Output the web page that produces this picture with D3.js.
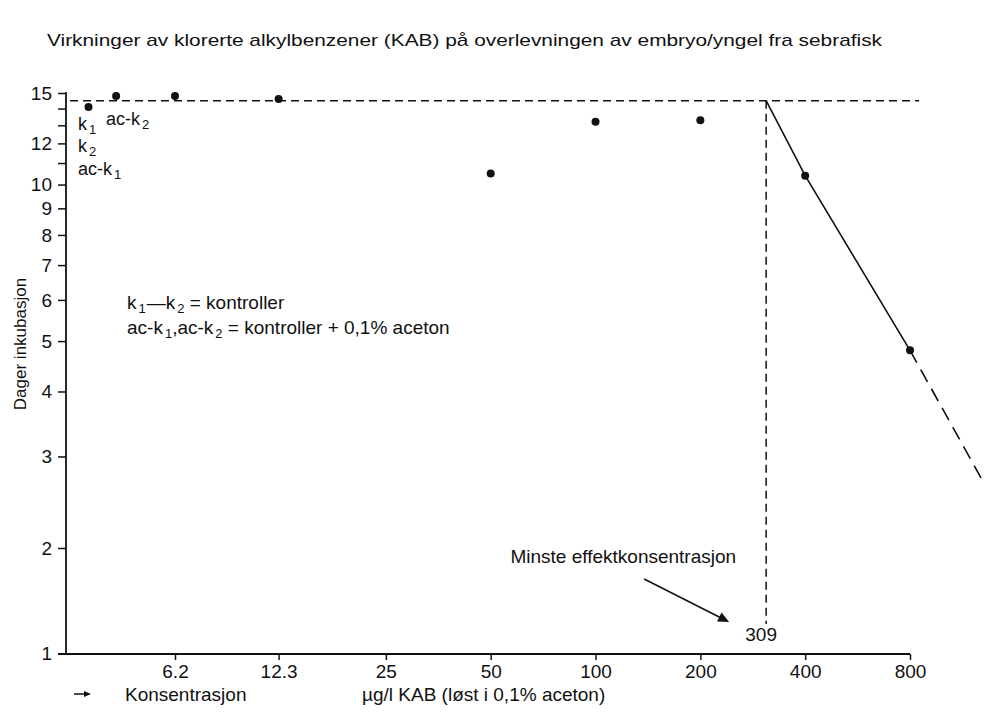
<!DOCTYPE html>
<html>
<head>
<meta charset="utf-8">
<script src="https://cdn.jsdelivr.net/npm/d3@7"></script>
<style>
  body { margin: 0; background: #fff; }
  text { font-family: "Liberation Sans", Arial, sans-serif; fill: #111; }
</style>
</head>
<body>
<div id="chart"></div>
<script>
// --- data ---
const xTicks = [6.2, 12.3, 25, 50, 100, 200, 400, 800];
const yTicks = [2, 3, 4, 5, 6, 7, 8, 9, 10, 11, 12, 13, 14, 15];
const yTickLabels = ["2", "3", "4", "5", "6", "7", "8", "9", "10", "", "12", "", "", "15"];

const conc = [6.2, 12.3, 50, 100, 200, 400, 800];
const days = [14.8, 14.6, 10.5, 13.2, 13.3, 10.4, 4.8];

const controlConc = [3.5, 4.2];      // k1, ac-k2 plotted left of the first concentration
const controlDays = [14.1, 14.8];

const plateau = 14.5;                 // dashed level of controls
const threshold = 309;                // minste effektkonsentrasjon
const fitConc = [309, 400, 800];
const fitDays = [14.5, 10.4, 4.8];
const extConc = [800, 1290];
const extDays = [4.8, 2.7];

const width = 993, height = 720;
const left = 66, bottom = 654;

const svg = d3.select("#chart").append("svg")
  .attr("width", width)
  .attr("height", height);

const x = d3.scaleLog().base(2).domain([6.2, 800]).range([175, 910]);
const y = d3.scaleLog().domain([2, 15]).range([548, 93]);

// title
svg.append("text")
  .attr("x", 47).attr("y", 46)
  .attr("textLength", 835).attr("lengthAdjust", "spacingAndGlyphs")
  .style("font-family", "'Liberation Sans Narrow', 'Liberation Sans', Arial, sans-serif")
  .style("font-size", "17px")
  .text("Virkninger av klorerte alkylbenzener (KAB) på overlevningen av embryo/yngel fra sebrafisk");

// y axis (log, broken below 2 down to origin 1)
const gy = svg.append("g")
  .attr("transform", `translate(${left},0)`)
  .call(d3.axisLeft(y).tickValues(yTicks).tickFormat((d, i) => yTickLabels[i]).tickSize(8).tickPadding(6));
gy.select(".domain").remove();
gy.selectAll("text").style("font-size", "19px").attr("fill", "#111");
gy.selectAll("line").attr("stroke", "#111").attr("stroke-width", 1.5);
gy.append("line").attr("x1", 0).attr("x2", 0).attr("y1", y(15) - 1).attr("y2", bottom)
  .attr("stroke", "#111").attr("stroke-width", 1.8);
gy.append("line").attr("x1", -8).attr("x2", 0).attr("y1", bottom).attr("y2", bottom)
  .attr("stroke", "#111").attr("stroke-width", 1.5);
gy.append("text").attr("x", -14).attr("y", bottom).attr("dy", "0.32em")
  .attr("text-anchor", "end").style("font-size", "19px").text("1");

svg.append("text")
  .attr("transform", `translate(26,344) rotate(-90)`)
  .attr("text-anchor", "middle")
  .style("font-size", "17px")
  .text("Dager inkubasjon");

// x axis
const gx = svg.append("g")
  .attr("transform", `translate(0,${bottom})`)
  .call(d3.axisBottom(x).tickValues(xTicks).tickFormat(d => String(d)).tickSize(6).tickPadding(5));
gx.select(".domain").remove();
gx.selectAll("text").style("font-size", "19px").attr("fill", "#111");
gx.selectAll("line").attr("stroke", "#111").attr("stroke-width", 1.5);
gx.append("line").attr("x1", left - 8).attr("x2", x(800)).attr("y1", 0).attr("y2", 0)
  .attr("stroke", "#111").attr("stroke-width", 1.8);

// bottom captions
const capArrow = svg.append("g").attr("transform", `translate(74,${bottom + 40})`);
capArrow.append("line").attr("x1", 0).attr("x2", 12).attr("y1", 0).attr("y2", 0)
  .attr("stroke", "#111").attr("stroke-width", 1.5);
capArrow.append("path").attr("d", "M10,-3 L17,0 L10,3 Z").attr("fill", "#111");
svg.append("text").attr("x", 125).attr("y", bottom + 47).style("font-size", "19px").text("Konsentrasjon");
svg.append("text").attr("x", 362).attr("y", bottom + 47).style("font-size", "19px").text("µg/l KAB (løst i 0,1% aceton)");

// dashed control level and threshold line
const dash = "8,5";
svg.append("line")
  .attr("x1", left + 4).attr("x2", x(850)).attr("y1", y(plateau)).attr("y2", y(plateau))
  .attr("stroke", "#111").attr("stroke-width", 1.5).attr("stroke-dasharray", dash);
svg.append("line")
  .attr("x1", x(threshold)).attr("x2", x(threshold)).attr("y1", y(plateau)).attr("y2", bottom - 30)
  .attr("stroke", "#111").attr("stroke-width", 1.5).attr("stroke-dasharray", dash);

// fitted line (solid) and extrapolation (dashed)
const line = d3.line().x(d => x(d[0])).y(d => y(d[1]));
svg.append("path")
  .attr("d", line(d3.zip(fitConc, fitDays)))
  .attr("fill", "none").attr("stroke", "#111").attr("stroke-width", 1.6);
svg.append("path")
  .attr("d", line(d3.zip(extConc, extDays)))
  .attr("fill", "none").attr("stroke", "#111").attr("stroke-width", 1.6)
  .attr("stroke-dasharray", "14,8");

// points
svg.append("g").selectAll("circle")
  .data(d3.zip(conc.concat(controlConc), days.concat(controlDays)))
  .join("circle")
  .attr("cx", d => x(d[0]))
  .attr("cy", d => y(d[1]))
  .attr("r", 4)
  .attr("fill", "#111");

// control labels with subscripts
function subLabel(px, py, base, sub, size) {
  const t = svg.append("text").attr("x", px).attr("y", py).style("font-size", size + "px");
  t.append("tspan").text(base);
  t.append("tspan").attr("dx", 2).attr("dy", 4).style("font-size", (size - 5) + "px").text(sub);
  return t;
}
subLabel(78, 130, "k", "1", 18);
subLabel(106, 125, "ac-k", "2", 18);
subLabel(78, 152, "k", "2", 18);
subLabel(78, 175, "ac-k", "1", 18);

// legend text
const lg = svg.append("text").attr("x", 127).attr("y", 309).style("font-size", "19px");
lg.append("tspan").text("k");
lg.append("tspan").attr("dx", 2).attr("dy", 4).style("font-size", "13px").text("1");
lg.append("tspan").attr("dx", 1).attr("dy", -4).text("\u2014k");
lg.append("tspan").attr("dx", 2).attr("dy", 4).style("font-size", "13px").text("2");
lg.append("tspan").attr("dy", -4).text(" = kontroller");

const lg2 = svg.append("text").attr("x", 127).attr("y", 334).style("font-size", "19px");
lg2.append("tspan").text("ac-k");
lg2.append("tspan").attr("dx", 2).attr("dy", 4).style("font-size", "13px").text("1");
lg2.append("tspan").attr("dy", -4).text(",ac-k");
lg2.append("tspan").attr("dx", 2).attr("dy", 4).style("font-size", "13px").text("2");
lg2.append("tspan").attr("dy", -4).text(" = kontroller + 0,1% aceton");

// threshold annotation
svg.append("text")
  .attr("x", x(threshold) - 5).attr("y", bottom - 13)
  .attr("text-anchor", "middle")
  .style("font-size", "19px")
  .text(String(threshold));
svg.append("text")
  .attr("x", x(threshold) - 30).attr("y", bottom - 91)
  .attr("text-anchor", "end")
  .style("font-size", "19px")
  .text("Minste effektkonsentrasjon");
const ax0 = [x(threshold) - 122, bottom - 75], ax1 = [x(threshold) - 37, bottom - 32];
svg.append("line")
  .attr("x1", ax0[0]).attr("y1", ax0[1]).attr("x2", ax1[0] - 6).attr("y2", ax1[1] - 3)
  .attr("stroke", "#111").attr("stroke-width", 1.6);
const ang = Math.atan2(ax1[1] - ax0[1], ax1[0] - ax0[0]) * 180 / Math.PI;
svg.append("path")
  .attr("d", "M0,0 L-11,-5 L-11,5 Z")
  .attr("transform", `translate(${ax1[0]},${ax1[1]}) rotate(${ang})`)
  .attr("fill", "#111");
</script>
</body>
</html>
